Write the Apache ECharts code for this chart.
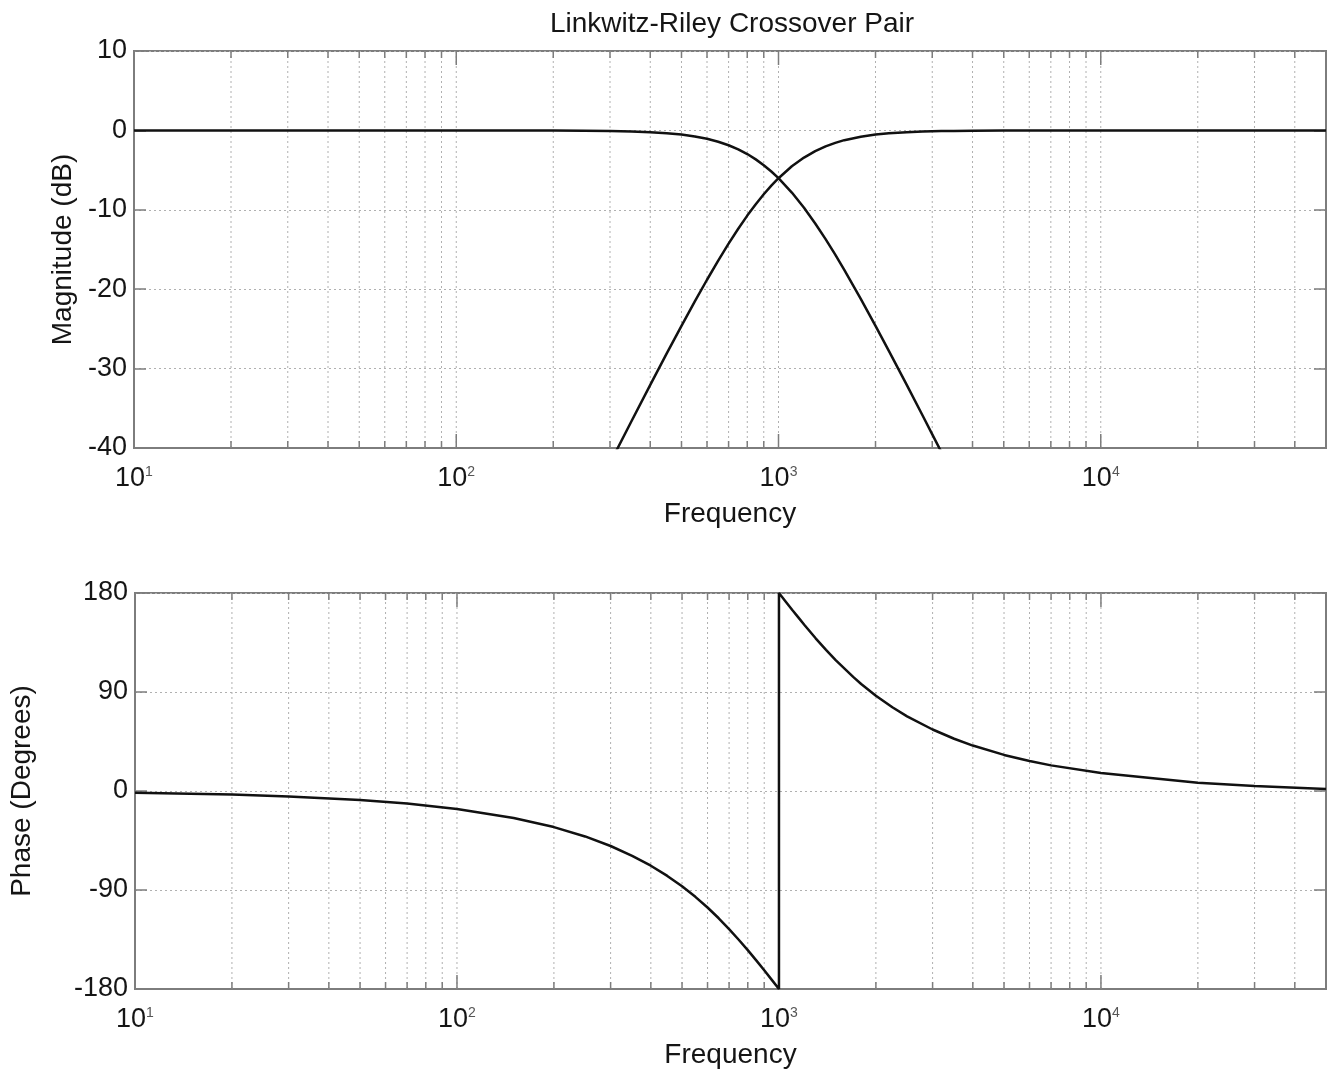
<!DOCTYPE html>
<html><head><meta charset="utf-8">
<script src="https://cdn.jsdelivr.net/npm/echarts@6/dist/echarts.min.js"></script>
<style>html,body{margin:0;padding:0;background:#fff}#c{width:1333px;height:1072px}</style>
</head><body><div id="c"></div>
<script>
// ---------------- data ----------------
const chartTitle = 'Linkwitz-Riley Crossover Pair';
const xName = 'Frequency';
const magName = 'Magnitude (dB)';
const phaseName = 'Phase (Degrees)';

const xDecades = [10, 100, 1000, 10000];
const gridFreq = [20,30,40,50,60,70,80,90,100,200,300,400,500,600,700,800,900,1000,
                  2000,3000,4000,5000,6000,7000,8000,9000,10000,20000,30000,40000];

const magFreq = [10,20,50,100,150,200,250,300,350,400,450,500,550,600,650,700,750,800,850,900,950,
                 1000,1100,1200,1300,1400,1500,1600,1800,2000,2200,2500,2800,3000,3200,3500,
                 4000,5000,10000,20000,50000];
const lowpassDb = [0,0,0,0,0,-0.01,-0.03,-0.07,-0.13,-0.22,-0.35,-0.53,-0.76,-1.06,-1.43,-1.87,-2.39,-2.98,-3.65,-4.38,-5.18,
                   -6.02,-7.83,-9.75,-11.72,-13.70,-15.65,-17.56,-21.21,-24.61,-27.76,-32.05,-35.91,-38.28,-40.49,-43.58,
                   null,null,null,null,null];
const highpassDb = [null,null,null,null,null,null,null,-41.9,-36.6,-32.05,-28.09,-24.61,-21.53,-18.81,-16.39,-14.26,-12.38,-10.73,-9.30,-8.04,-6.96,
                    -6.02,-4.52,-3.42,-2.61,-2.01,-1.57,-1.23,-0.79,-0.53,-0.36,-0.22,-0.14,-0.11,-0.08,-0.06,
                    -0.03,-0.01,0,0,0];

const phaseFreq = [10,20,30,50,70,100,150,200,250,300,350,400,450,500,550,600,650,700,750,800,850,900,950,1000,
                   1000,1050,1100,1150,1200,1300,1400,1500,1700,1800,2000,2250,2500,3000,3500,4000,5000,6000,7000,10000,20000,30000,50000];
const phaseDeg = [-1.6,-3.2,-4.9,-8.1,-11.4,-16.3,-24.5,-32.8,-41.3,-50.0,-58.9,-67.9,-77.2,-86.6,-96.2,-105.9,-115.7,-125.5,-135.2,-144.7,-154.0,-163.0,-171.7,-180,
                  180,172.1,164.6,157.6,150.9,138.8,128.3,119.0,103.7,97.3,86.6,76.1,67.9,55.9,47.5,41.3,32.8,27.3,23.3,16.3,7.5,4.5,1.8];

const magAxis = {min: -40, max: 10, step: 10};
const phaseAxis = {min: -180, max: 180, step: 90};
const xRange = {min: 10, max: 50000};

// ---------------- chart ----------------
const FONT = 'Arial, "Liberation Sans", sans-serif';
const TXT = '#151515';
const BORDER = '#7d7d7d';
const GRIDC = '#b0b0b0';

function zip(xs, ys) { return xs.map((x, i) => [x, ys[i]]); }

function decadeLabel(v) {
  const n = Math.round(Math.log10(v));
  if (Math.abs(Math.pow(10, n) - v) / v > 1e-6) return '';
  if (xDecades.indexOf(Math.pow(10, n)) < 0) return '';
  return '10{sup|' + n + '}';
}

function makeX(gi) {
  return {
    type: 'log', logBase: 10, gridIndex: gi, min: xRange.min, max: xRange.max,
    axisLine: {show: true, onZero: false, lineStyle: {color: BORDER, width: 2}},
    axisTick: {show: false}, splitLine: {show: false},
    axisLabel: {formatter: decadeLabel, margin: 17, color: TXT, fontSize: 27, fontFamily: FONT,
      rich: {sup: {fontSize: 14, color: '#555', verticalAlign: 'top', fontFamily: FONT}}},
    name: xName, nameLocation: 'middle', nameGap: 52,
    nameTextStyle: {fontSize: 28, color: TXT, fontFamily: FONT}
  };
}
function makeY(gi, ax, name, gap) {
  return {
    type: 'value', gridIndex: gi, min: ax.min, max: ax.max, interval: ax.step,
    axisLine: {show: true, lineStyle: {color: BORDER, width: 2}},
    axisTick: {show: true, inside: true, length: 12, lineStyle: {color: BORDER, width: 1.5}},
    splitLine: {show: true, lineStyle: {color: GRIDC, type: [2, 3], width: 1}},
    axisLabel: {margin: 7, color: TXT, fontSize: 27, fontFamily: FONT},
    name: name, nameLocation: 'middle', nameGap: gap,
    nameTextStyle: {fontSize: 28, color: TXT, fontFamily: FONT}
  };
}
function makeYRight(gi, ax) {
  return {
    type: 'value', gridIndex: gi, position: 'right', min: ax.min, max: ax.max, interval: ax.step,
    axisLine: {show: true, lineStyle: {color: BORDER, width: 2}},
    axisTick: {show: true, inside: true, length: 12, lineStyle: {color: BORDER, width: 1.5}},
    splitLine: {show: false}, axisLabel: {show: false}
  };
}
function vGridSeries(xi, yi, ax) {
  return {
    type: 'custom', xAxisIndex: xi, yAxisIndex: yi, silent: true, z: 1, clip: false,
    encode: {x: 0, y: 1},
    data: gridFreq.map(f => [f, ax.min, ax.max]),
    renderItem: function (params, api) {
      const f = api.value(0);
      const b = api.coord([f, api.value(1)]);
      const t = api.coord([f, api.value(2)]);
      const len = xDecades.indexOf(f) >= 0 ? 14 : 7;
      return {type: 'group', children: [
        {type: 'line', shape: {x1: b[0], y1: b[1], x2: t[0], y2: t[1]},
         style: {stroke: GRIDC, lineWidth: 1, lineDash: [2, 3]}},
        {type: 'line', shape: {x1: b[0], y1: b[1], x2: b[0], y2: b[1] - len},
         style: {stroke: BORDER, lineWidth: 1.5}},
        {type: 'line', shape: {x1: t[0], y1: t[1], x2: t[0], y2: t[1] + len},
         style: {stroke: BORDER, lineWidth: 1.5}}
      ]};
    }
  };
}
function lineSeries(xi, yi, data) {
  return {type: 'line', xAxisIndex: xi, yAxisIndex: yi, data: data, showSymbol: false,
          connectNulls: false, clip: true, z: 5,
          lineStyle: {color: '#111', width: 2.5}, itemStyle: {color: '#111'}};
}

const chart = echarts.init(document.getElementById('c'), null, {renderer: 'canvas'});
chart.setOption({
  animation: false,
  backgroundColor: '#fff',
  title: {text: chartTitle, left: 727, top: 5, textAlign: 'center',
          textStyle: {fontSize: 28, fontWeight: 'normal', color: TXT, fontFamily: FONT}},
  grid: [
    {left: 134, top: 51, width: 1192, height: 397, show: true, borderColor: BORDER, borderWidth: 2, backgroundColor: '#fff'},
    {left: 134, top: 593, width: 1192, height: 396, show: true, borderColor: BORDER, borderWidth: 2, backgroundColor: '#fff'}
  ],
  xAxis: [makeX(0), makeX(1)],
  yAxis: [makeY(0, magAxis, magName, 54), makeY(1, phaseAxis, phaseName, 99),
          makeYRight(0, magAxis), makeYRight(1, phaseAxis)],
  series: [
    vGridSeries(0, 0, magAxis),
    vGridSeries(1, 1, phaseAxis),
    lineSeries(0, 0, zip(magFreq, lowpassDb)),
    lineSeries(0, 0, zip(magFreq, highpassDb)),
    lineSeries(1, 1, zip(phaseFreq, phaseDeg))
  ]
});
</script></body></html>
